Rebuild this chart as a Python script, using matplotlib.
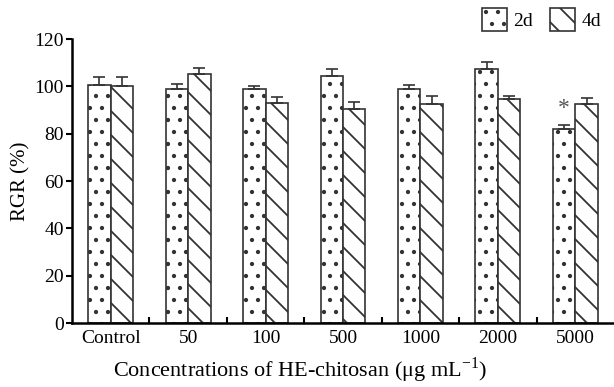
import matplotlib.pyplot as plt
import numpy as np

# data
groups = ['Control', '50', '100', '500', '1000', '2000', '5000']
rgr_2d = [100.5, 99.0, 98.9, 104.3, 99.0, 107.2, 82.0]
err_2d = [3.5, 2.0, 1.2, 3.0, 1.5, 3.0, 1.6]
rgr_4d = [100.3, 105.2, 92.8, 90.3, 92.4, 94.5, 92.5]
err_4d = [3.5, 2.4, 2.8, 2.9, 3.6, 1.4, 2.7]
star_group = 6
star_y = 90.5

# drawn at 72 dpi so the hatch patterns come out denser; k keeps sizes as at 100 dpi
dpi = 72
k = 100 / dpi

plt.rcParams['font.family'] = ['Liberation Serif', 'DejaVu Serif']
plt.rcParams['hatch.linewidth'] = 1.3 * k
fs = 14 * k

fig = plt.figure(figsize=(614 / dpi, 387 / dpi), dpi=dpi)
ax = fig.add_axes([72/614, 64/387, 542/614, 284/387])

x = np.arange(len(groups))
w = 0.29
ec = '#333333'
ax.bar(x - w/2, rgr_2d, w, color='white', edgecolor=ec, linewidth=1.2 * k,
       hatch='.', label='2d')
ax.bar(x + w/2, rgr_4d, w, color='white', edgecolor=ec, linewidth=1.2 * k,
       hatch='\\', label='4d')
zeros = np.zeros(len(groups))
ax.errorbar(x - w/2, rgr_2d, yerr=[zeros, err_2d], fmt='none', ecolor=ec,
            elinewidth=1.2 * k, capsize=4 * k, capthick=1.2 * k)
ax.errorbar(x + w/2, rgr_4d, yerr=[zeros, err_4d], fmt='none', ecolor=ec,
            elinewidth=1.2 * k, capsize=4 * k, capthick=1.2 * k)
ax.text(star_group - w/2, star_y, '*', ha='center', va='center', fontsize=17 * k,
        color='#555555')

ax.set_xlim(-0.5, 6.5)
ax.set_ylim(0, 120)
ax.set_xticks(x)
ax.set_xticklabels(groups, fontsize=fs)
ax.set_xticks(x[:-1] + 0.5, minor=True)
ax.tick_params(axis='x', which='major', length=0, pad=5 * k)
ax.tick_params(axis='x', which='minor', direction='in', length=4 * k, width=1.5 * k)
ax.set_yticks(np.arange(0, 121, 20))
ax.tick_params(axis='y', direction='out', length=4 * k, width=1.5 * k,
               labelsize=fs, pad=2 * k)
for s in ['top', 'right']:
    ax.spines[s].set_visible(False)
for s in ['left', 'bottom']:
    ax.spines[s].set_linewidth(1.8 * k)

ax.set_ylabel('RGR (%)', fontsize=15 * k, labelpad=3 * k)
fig.text(300/614, 1 - 370/387, 'Concentrations of HE-chitosan (μg mL$^{\\mathregular{-1}}$)',
         ha='center', va='center', fontsize=16 * k)

ax.legend(loc='upper right', bbox_to_anchor=(0.99, 1.135), ncol=2, frameon=False,
          fontsize=fs, handlelength=1.3, handleheight=1.4, handletextpad=0.3,
          columnspacing=0.9, borderaxespad=0)

fig.savefig('out.png', dpi=dpi)
